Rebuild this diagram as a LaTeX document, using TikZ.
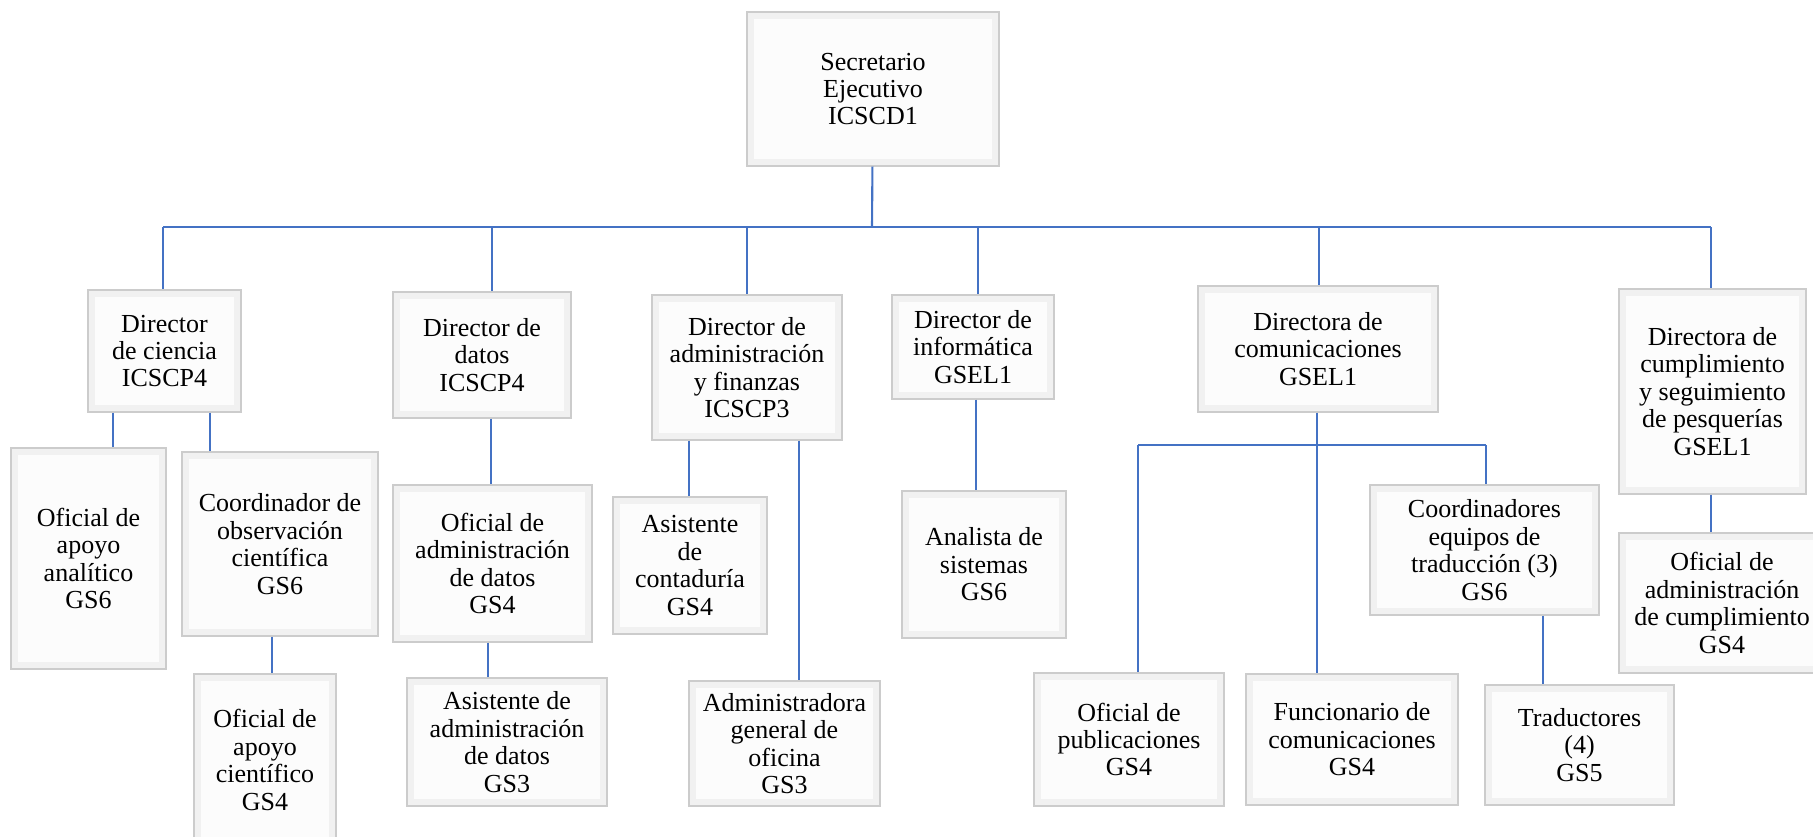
\documentclass[tikz,border=0pt]{standalone}
\usepackage{fontspec}
\setmainfont{Liberation Serif}
\definecolor{orgline}{RGB}{68,114,196}

\begin{document}
\begin{tikzpicture}[x=0.02cm,y=-0.02cm]
	\tikzstyle{post}=[rectangle,draw=gray!40,line width=0.8pt,fill=gray!2,align=center,inner sep=0pt,
	  font=\fontsize{14.8}{15.6}\selectfont,
	  path picture={\draw[gray!11,line width=8pt] (path picture bounding box.south west) rectangle (path picture bounding box.north east);}]
	\tikzstyle{link}=[draw=orgline,line width=1.2pt]
	\tikzset{wh/.style 2 args={minimum width=#1*0.02cm,minimum height=#2*0.02cm}}

	\useasboundingbox (0,0) rectangle (1813,836);

	\node [post,wh={252}{154}] (sec) at (873,89) {Secretario\\Ejecutivo\\ICSCD1};

	\node [post,wh={153}{122}] (dir_ciencia) at (164.5,351) {Director\\de ciencia\\ICSCP4};
	\node [post,wh={178}{126}] (dir_datos) at (482,355) {Director de\\datos\\ICSCP4};
	\node [post,wh={190}{145}] (dir_admin) at (747,367.5) {Director de\\administración\\y finanzas\\ICSCP3};
	\node [post,wh={162}{104}] (dir_info) at (973,347) {Director de\\informática\\GSEL1};
	\node [post,wh={240}{126}] (dir_com) at (1318,349) {Directora de\\comunicaciones\\GSEL1};
	\node [post,wh={187}{205}] (dir_cumpl) at (1712.5,391.5) {Directora de\\cumplimiento\\y seguimiento\\de pesquerías\\GSEL1};

	\node [post,wh={155}{221}] (of_analitico) at (88.5,558.5) {Oficial de\\apoyo\\analítico\\GS6};
	\node [post,wh={196}{184}] (coord_obs) at (280,544) {Coordinador de\\observación\\científica\\GS6};
	\node [post,wh={142}{172}] (of_cientifico) at (265,760) {Oficial de\\apoyo\\científico\\GS4};
	\node [post,wh={199}{157}] (of_datos) at (492.5,563.5) {Oficial de\\administración\\de datos\\GS4};
	\node [post,wh={200}{128}] (asis_datos) at (507,742) {Asistente de\\administración\\de datos\\GS3};
	\node [post,wh={154}{137}] (asis_conta) at (690,565.5) {Asistente\\de\\contaduría\\GS4};
	\node [post,wh={191}{125}] (admin_ofic) at (784.5,743.5) {Administradora\\general de\\oficina\\GS3};
	\node [post,wh={164}{147}] (analista) at (984,564.5) {Analista de\\sistemas\\GS6};
	\node [post,wh={190}{133}] (of_publ) at (1129,739.5) {Oficial de\\publicaciones\\GS4};
	\node [post,wh={212}{131}] (func_com) at (1352,739.5) {Funcionario de\\comunicaciones\\GS4};
	\node [post,wh={229}{130}] (coord_trad) at (1484.5,550) {Coordinadores\\equipos de\\traducción (3)\\GS6};
	\node [post,wh={189}{120}] (traductores) at (1579.5,745) {Traductores\\(4)\\GS5};
	\node [post,wh={206}{140}] (of_cumpl) at (1722,603) {Oficial de\\administración\\de cumplimiento\\GS4};

	\coordinate (bus) at (872,227);
	\coordinate (com_bus) at (1317,445);

	% top level
	\draw [link] (sec) -- (bus);
	\draw [link] (bus -| 163,0) -- (bus -| 1711,0);
	\foreach \dest/\x in
	{dir_ciencia/163,dir_datos/492,dir_admin/747,dir_info/978,dir_com/1319,dir_cumpl/1711}
	  \draw [link] (bus -| \x,0) -- (\dest.north -| \x,0);

	% under the directors
	\foreach \source/\dest/\x in
	{dir_ciencia/of_analitico/113,dir_ciencia/coord_obs/210,coord_obs/of_cientifico/272,dir_datos/of_datos/491,of_datos/asis_datos/488,dir_admin/asis_conta/689,dir_admin/admin_ofic/799,dir_info/analista/976,dir_cumpl/of_cumpl/1711,coord_trad/traductores/1543}
	  \draw [link] (\source.south -| \x,0) -- (\dest.north -| \x,0);

	% communications
	\draw [link] (dir_com.south -| com_bus) -- (com_bus);
	\draw [link] (com_bus -| 1138,0) -- (com_bus -| 1486,0);
	\foreach \dest/\x in
	{of_publ/1138,func_com/1317,coord_trad/1486}
	  \draw [link] (com_bus -| \x,0) -- (\dest.north -| \x,0);
\end{tikzpicture}
\end{document}
